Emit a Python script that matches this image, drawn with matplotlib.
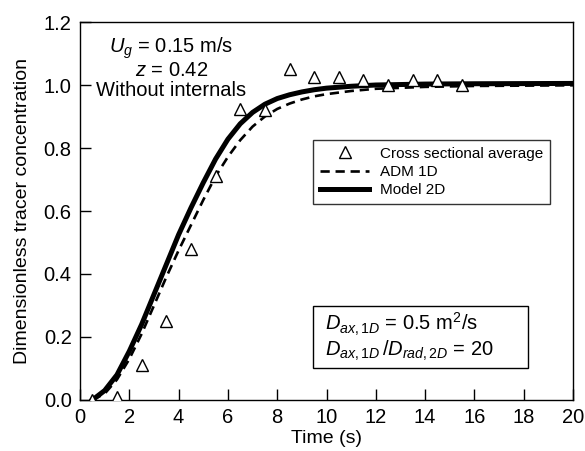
import matplotlib
matplotlib.use("Agg")
import matplotlib.pyplot as plt
from matplotlib.patches import Rectangle

plt.rcParams["font.family"] = ["Liberation Sans", "DejaVu Sans"]
plt.rcParams["mathtext.fontset"] = "custom"
plt.rcParams["mathtext.rm"] = "Liberation Sans"
plt.rcParams["mathtext.it"] = "Liberation Sans:italic"

# measured tracer (cross sectional average)
exp_t = [0.5, 1.5, 2.5, 3.5, 4.5, 5.5, 6.5, 7.5, 8.5, 9.5, 10.5, 11.5, 12.5, 13.5, 14.5, 15.5]
exp_c = [0.0, 0.01, 0.11, 0.25, 0.48, 0.71, 0.925, 0.92, 1.05, 1.025, 1.025, 1.015, 1.0, 1.015, 1.015, 1.0]

# model curves
mod_t = [0.5, 1.0, 1.5, 2.0, 2.5, 3.0, 3.5, 4.0, 4.5, 5.0, 5.5, 6.0, 6.5, 7.0, 7.5, 8.0,
         8.5, 9.0, 9.5, 10.0, 11.0, 12.0, 14.0, 16.0, 20.0]
adm_1d = [0.0, 0.02, 0.065, 0.13, 0.21, 0.3, 0.39, 0.475, 0.555, 0.635, 0.71, 0.772, 0.825,
          0.868, 0.9, 0.924, 0.941, 0.954, 0.964, 0.971, 0.981, 0.988, 0.994, 0.997, 0.999]
model_2d = [0.0, 0.03, 0.08, 0.155, 0.24, 0.335, 0.43, 0.525, 0.61, 0.69, 0.765, 0.828, 0.877,
            0.913, 0.939, 0.957, 0.969, 0.978, 0.985, 0.99, 0.996, 1.0, 1.003, 1.004, 1.005]

fig = plt.figure(figsize=(5.85, 4.51), dpi=100)
ax = fig.add_axes([0.1368, 0.1131, 0.8427, 0.8381])

ax.plot(mod_t, adm_1d, color="black", linestyle=(0, (3.5, 2.2)), linewidth=1.9, label="ADM 1D")
ax.plot(mod_t, model_2d, color="black", linestyle="-", linewidth=3.6, label="Model 2D",
        solid_joinstyle="round")
ax.plot(exp_t, exp_c, linestyle="none", marker="^", markersize=9, markerfacecolor="white",
        markeredgecolor="black", markeredgewidth=1.0, label="Cross sectional average", zorder=5)

ax.set_xlim(0, 20)
ax.set_ylim(0, 1.2)
ax.set_xticks(range(0, 21, 2))
ax.set_yticks([0.0, 0.2, 0.4, 0.6, 0.8, 1.0, 1.2])
ax.set_yticklabels(["0.0", "0.2", "0.4", "0.6", "0.8", "1.0", "1.2"])
ax.tick_params(direction="in", length=8, width=1, labelsize=14.5, pad=6)
ax.set_xlabel("Time (s)", fontsize=14, labelpad=2)
ax.set_ylabel("Dimensionless tracer concentration", fontsize=14, labelpad=9)
for s in ax.spines.values():
    s.set_linewidth(1.0)

h, l = ax.get_legend_handles_labels()
leg = ax.legend([h[2], h[0], h[1]], [l[2], l[0], l[1]], loc="upper left",
                bbox_to_anchor=(0.473, 0.688), borderaxespad=0, fontsize=11, frameon=True,
                fancybox=False, edgecolor="black", handlelength=3.2, borderpad=0.45,
                labelspacing=0.28, handletextpad=0.7)
leg.get_frame().set_linewidth(1.0)

ax.text(0.185, 0.965, "$U_g$ = 0.15 m/s\n$z$ = 0.42\nWithout internals", transform=ax.transAxes,
        ha="center", va="top", multialignment="center", fontsize=14.5, linespacing=1.05)

# parameter box
ax.add_patch(Rectangle((0.473, 0.085), 0.436, 0.164, transform=ax.transAxes, facecolor="white",
                       edgecolor="black", linewidth=1.0, zorder=6))
ax.text(0.497, 0.167, "$D_{ax,1D}$ = 0.5 m$^2$/s\n$D_{ax,1D}\\,/D_{rad,2D}$ = 20",
        transform=ax.transAxes, ha="left", va="center", fontsize=14.5, linespacing=1.05, zorder=7)

fig.savefig("out.png", dpi=100)
